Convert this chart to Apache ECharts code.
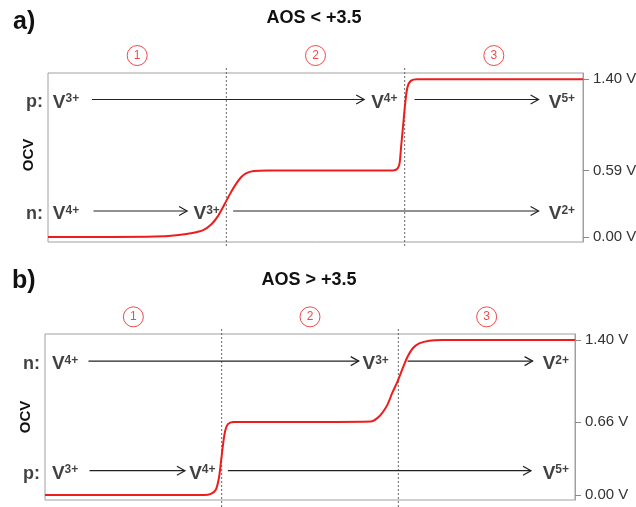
<!DOCTYPE html>
<html><head><meta charset="utf-8">
<script src="https://cdn.jsdelivr.net/npm/echarts@6/dist/echarts.min.js"></script>
<style>html,body{margin:0;padding:0;background:#fff}#c{width:636px;height:507px}</style>
</head><body><div id="c"></div>
<script>
const FONT = 'Liberation Sans, Arial, Helvetica, sans-serif';
const RED = '#ee1c1c';
const Y_MIN = -0.045, Y_MAX = 1.455;

// region markers (circled numbers) and the dividing dotted lines
const regionNums = ['1', '2', '3'];
const regionCenters = [16.67, 50, 83.33];
const circleLevel = 1.61;
const dividers = [33.33, 66.67];

// right-axis tick values
const ticksA = [0, 0.59, 1.40];
const ticksB = [0, 0.66, 1.40];

// OCV curves [x, V]
const curveA = [[0,0],[12,0],[20,0.003],[24,0.015],[27,0.035],[29,0.06],[30.5,0.11],[31.7,0.18],[33,0.29],[34,0.38],[35,0.46],[36,0.525],[37,0.565],[38.5,0.585],[41,0.59],[50,0.59],
  [64.5,0.59],[65.3,0.605],[65.7,0.65],[66.0,0.8],[66.4,1.0],[66.8,1.2],[67.2,1.33],[67.8,1.385],[69,1.4],[75,1.4],[100,1.4]];
const curveB = [[0,0],[15,0],[30,0],[31.3,0.01],[32.2,0.045],[32.8,0.15],[33.2,0.3],[33.6,0.46],[34,0.58],[34.5,0.64],[35.5,0.66],[45,0.66],
  [61.5,0.665],[62.7,0.695],[63.6,0.74],[64.6,0.815],[65.5,0.92],[66.5,1.025],[67.5,1.146],[68.4,1.25],[69.4,1.326],[70.6,1.37],[72.5,1.395],[75,1.4],[85,1.4],[100,1.4]];

// row labels [text, V]
const rowsA = [['p:', 1.22], ['n:', 0.23]];
const rowsB = [['n:', 1.21], ['p:', 0.22]];

// ion labels [x, V, charge]
const ionsA = [[0.9,1.22,'3+'],[60.4,1.22,'4+'],[93.6,1.22,'5+'],[0.9,0.23,'4+'],[27.2,0.23,'3+'],[93.6,0.23,'2+']];
const ionsB = [[1.3,1.21,'4+'],[59.9,1.21,'3+'],[93.9,1.21,'2+'],[1.3,0.22,'3+'],[27.2,0.22,'4+'],[93.9,0.22,'5+']];

// arrows [xStart, xEnd, V]
const arrowsA = [[8.2,59.1,1.22],[68.5,91.7,1.22],[8.5,26.0,0.23],[34.6,91.7,0.23]];
const arrowsB = [[8.2,59.2,1.21],[68.4,92.0,1.21],[8.4,26.4,0.22],[34.5,91.7,0.22]];

const chart = echarts.init(document.getElementById('c'), null, {renderer: 'canvas'});

function yAxisFor(idx, ticks) {
  return {
    gridIndex: idx, type: 'value', position: 'right', min: Y_MIN, max: Y_MAX,
    axisLine: {show: true, onZero: false, lineStyle: {color: '#a0a0a0', width: 1}}, splitLine: {show: false},
    axisTick: {show: true, length: 6, inside: false, customValues: ticks, lineStyle: {color: '#888'}},
    axisLabel: {show: true, customValues: ticks, margin: 10, fontSize: 15, color: '#333', fontFamily: FONT,
      formatter: v => v.toFixed(2) + ' V'}
  };
}
function xAxisFor(idx) {
  return {gridIndex: idx, type: 'value', min: 0, max: 100, show: false};
}

function panelSeries(idx, curve, rows, ions, arrows, extendBottom) {
  return [
    {type: 'custom', xAxisIndex: idx, yAxisIndex: idx, clip: false, silent: true,
      data: dividers.map(d => [d]),
      encode: {x: 0},
      renderItem: (params, api) => {
        const x = api.value(0);
        const top = api.coord([x, Y_MAX]);
        const bot = api.coord([x, Y_MIN]);
        return {type: 'line', shape: {x1: top[0], y1: top[1] - 5, x2: bot[0], y2: bot[1] + extendBottom},
          style: {stroke: '#666', lineWidth: 1, lineDash: [2, 2]}};
      }},
    {type: 'custom', xAxisIndex: idx, yAxisIndex: idx, clip: false, silent: true,
      data: arrows, encode: {x: [0, 1], y: 2},
      renderItem: (params, api) => {
        const y = api.value(2);
        const a = api.coord([api.value(0), y]);
        const b = api.coord([api.value(1), y]);
        return {type: 'group', children: [
          {type: 'line', shape: {x1: a[0], y1: a[1], x2: b[0], y2: b[1]}, style: {stroke: '#222', lineWidth: 1.2}},
          {type: 'polyline', shape: {points: [[b[0] - 8, b[1] - 4.5], [b[0], b[1]], [b[0] - 8, b[1] + 4.5]]},
            style: {stroke: '#222', lineWidth: 1.2, fill: null}}
        ]};
      }},
    {type: 'line', xAxisIndex: idx, yAxisIndex: idx, data: curve, symbol: 'none', smooth: 0.3,
      lineStyle: {color: RED, width: 2}, z: 5},
    {type: 'scatter', xAxisIndex: idx, yAxisIndex: idx, clip: false, silent: true,
      data: ions, symbolSize: 0, z: 6,
      label: {show: true, position: 'right', distance: 0, offset: [0, 3],
        formatter: p => '{v|V}{s|' + p.value[2] + '}',
        rich: {
          v: {fontSize: 19, fontWeight: 'bold', color: '#111', fontFamily: FONT, lineHeight: 19},
          s: {fontSize: 12, fontWeight: 'bold', color: '#111', fontFamily: FONT, lineHeight: 12, verticalAlign: 'top'}
        }}},
    {type: 'scatter', xAxisIndex: idx, yAxisIndex: idx, clip: false, silent: true,
      data: rows.map(r => [0, r[1], r[0]]), symbolSize: 0,
      label: {show: true, position: 'left', distance: 5, offset: [0, 3], formatter: p => p.value[2],
        fontSize: 18, fontWeight: 'bold', color: '#111', fontFamily: FONT}},
    {type: 'scatter', xAxisIndex: idx, yAxisIndex: idx, clip: false, silent: true,
      data: regionCenters.map((c, i) => [c, circleLevel, regionNums[i]]),
      symbol: 'circle', symbolSize: 20,
      itemStyle: {color: '#fff', borderColor: RED, borderWidth: 1},
      label: {show: true, position: 'inside', formatter: p => p.value[2], color: RED, fontSize: 12, fontFamily: FONT}}
  ];
}

chart.setOption({
  animation: false,
  backgroundColor: '#fff',
  title: [
    {text: 'a)', left: 13, top: 10, padding: 0, textStyle: {fontSize: 25, fontWeight: 'bold', color: '#111', fontFamily: FONT}},
    {text: 'AOS < +3.5', left: 314, top: 9, padding: 0, textAlign: 'center', textStyle: {fontSize: 18, fontWeight: 'bold', color: '#111', fontFamily: FONT}},
    {text: 'b)', left: 12, top: 269, padding: 0, textStyle: {fontSize: 25, fontWeight: 'bold', color: '#111', fontFamily: FONT}},
    {text: 'AOS > +3.5', left: 309, top: 271, padding: 0, textAlign: 'center', textStyle: {fontSize: 18, fontWeight: 'bold', color: '#111', fontFamily: FONT}}
  ],
  graphic: [
    {type: 'text', x: 29, y: 155, rotation: Math.PI / 2,
      style: {text: 'OCV', textAlign: 'center', textVerticalAlign: 'middle', font: 'bold 15px ' + FONT, fill: '#111'}},
    {type: 'text', x: 26, y: 417, rotation: Math.PI / 2,
      style: {text: 'OCV', textAlign: 'center', textVerticalAlign: 'middle', font: 'bold 15px ' + FONT, fill: '#111'}}
  ],
  grid: [
    {left: 48, top: 73, width: 535, height: 169, show: true, borderColor: '#a0a0a0', borderWidth: 1, backgroundColor: 'transparent',
      containLabel: false, outerBoundsMode: 'none'},
    {left: 45, top: 334, width: 530, height: 166, show: true, borderColor: '#a0a0a0', borderWidth: 1, backgroundColor: 'transparent',
      containLabel: false, outerBoundsMode: 'none'}
  ],
  xAxis: [xAxisFor(0), xAxisFor(1)],
  yAxis: [yAxisFor(0, ticksA), yAxisFor(1, ticksB)],
  series: [
    ...panelSeries(0, curveA, rowsA, ionsA, arrowsA, 5),
    ...panelSeries(1, curveB, rowsB, ionsB, arrowsB, 8)
  ]
});
</script>
</body></html>
